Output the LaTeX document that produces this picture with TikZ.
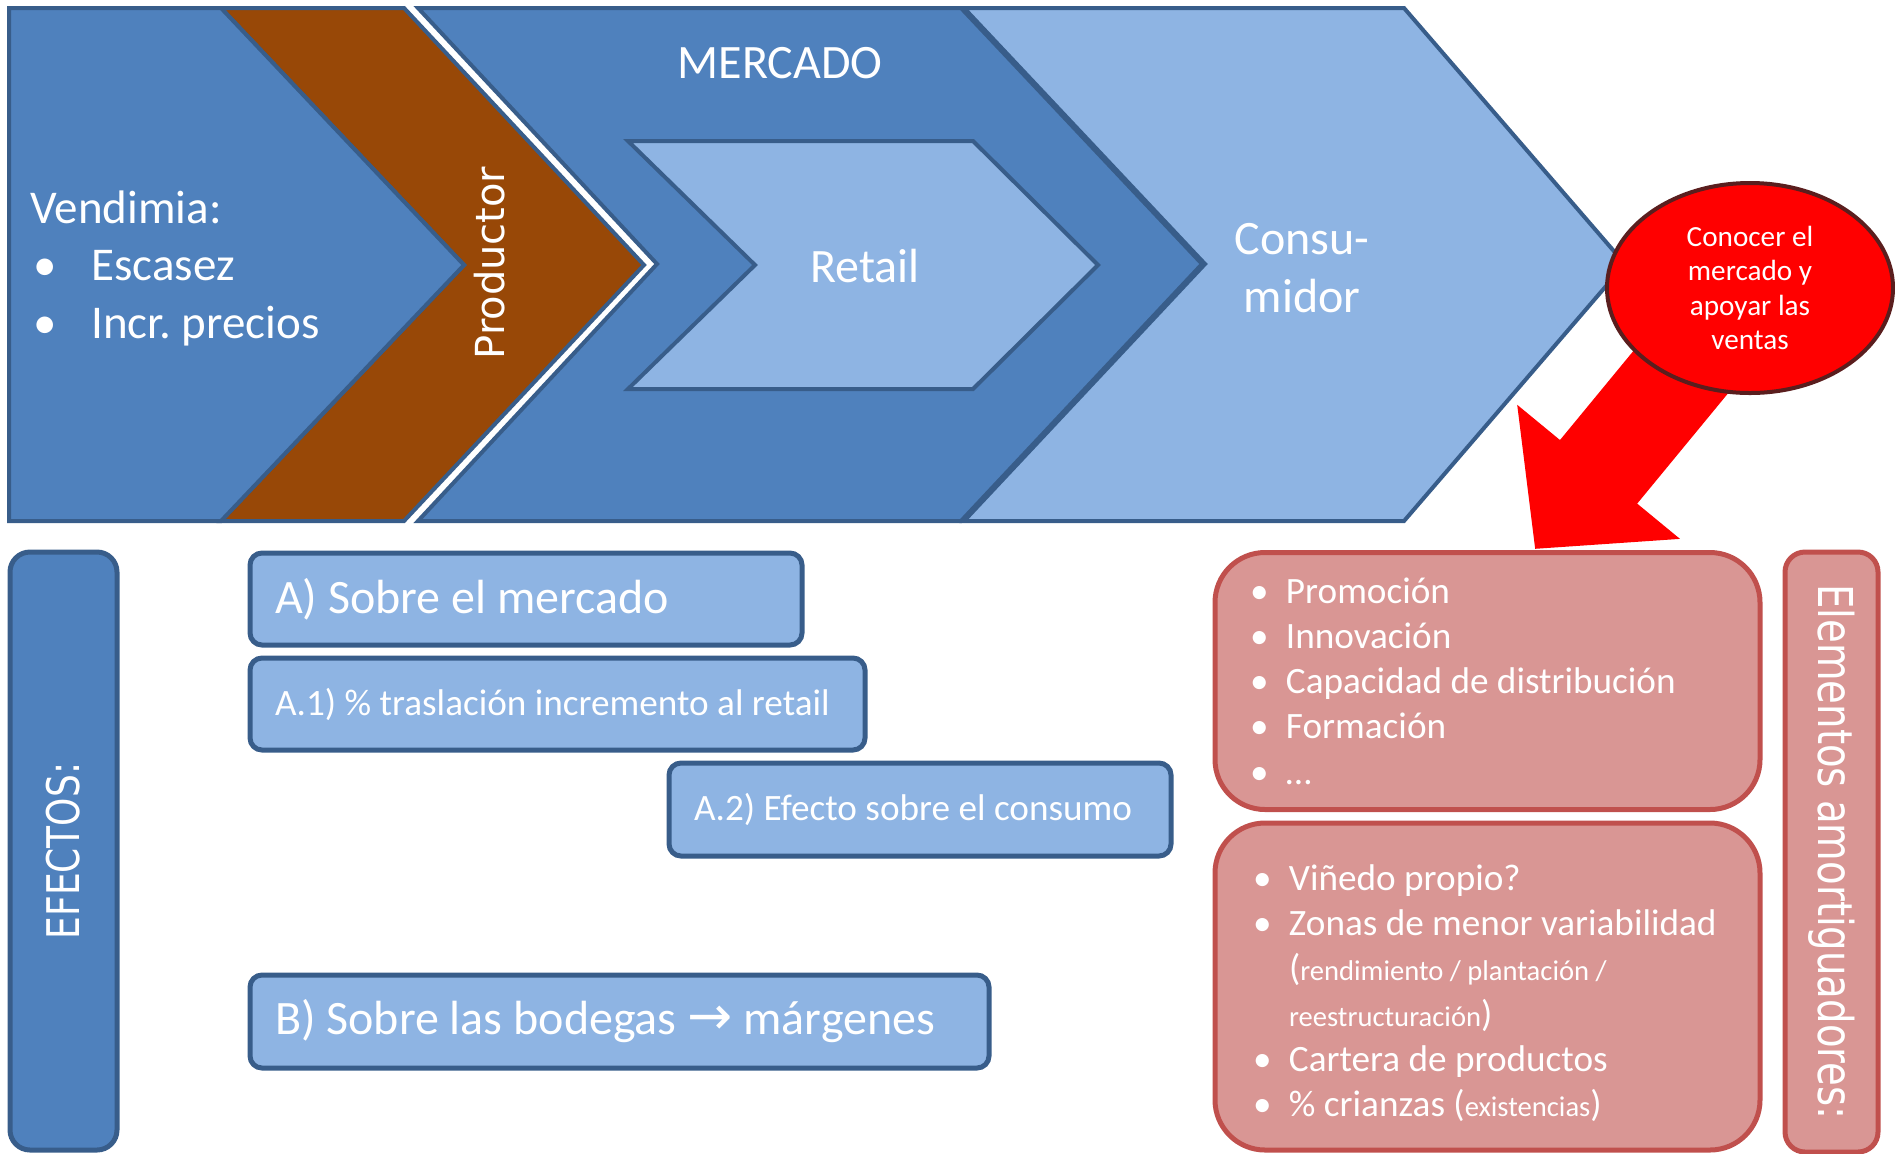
\documentclass[tikz,border=0pt]{standalone}
\usepackage{fontspec}
\setmainfont{Carlito}
\newfontfamily\dvs{DejaVu Sans}
\usetikzlibrary{arrows.meta,shapes.geometric}
\definecolor{midblue}{HTML}{4F81BD}
\definecolor{lightblue}{HTML}{8EB4E3}
\definecolor{darkblue}{HTML}{385D8A}
\definecolor{brownc}{HTML}{984807}
\definecolor{pinkfill}{HTML}{D99694}
\definecolor{redborder}{HTML}{C0504D}
\definecolor{brightred}{HTML}{FF0000}
\definecolor{rim}{HTML}{5A1E1E}
\newcommand\nsp{\spaceskip=0pt\xspaceskip=0pt\relax}
\newcommand\smalltxt[1]{{\fontsize{14.3}{22.6}\selectfont #1}}
\frenchspacing
\begin{document}
\begin{tikzpicture}[x=0.5pt,y=-0.5pt,
  chev/.style={draw=darkblue, line width=2pt, line join=miter},
  bigtxt/.style={text=white, inner sep=0pt, font=\fontsize{24}{28.75}\selectfont},
  bluebox/.style={draw=darkblue, fill=lightblue, line width=2.5pt, rounded corners=6pt,
     text=white, align=left, inner xsep=12.5pt, inner ysep=0pt},
  redbox/.style={draw=redborder, fill=pinkfill, line width=2.5pt, rounded corners=25pt,
     text=white, align=left, inner ysep=0pt, font=\fontsize{18.6}{22.6}\selectfont},
  sidebox/.style={line width=2.5pt, rounded corners=10pt, text=white, inner sep=0pt}
]
\useasboundingbox (0,0) rectangle (1895,1153);

% --- top chevron band ---
\filldraw[chev, fill=lightblue] (964,8) -- (1404,8) -- (1625,264) -- (1404,521) -- (964,521) -- (1205,264) -- cycle;
\filldraw[chev, fill=midblue] (418,8) -- (961,8) -- (1202,264) -- (961,521) -- (418,521) -- (657,264) -- cycle;
\filldraw[chev, fill=lightblue] (628,141) -- (973,141) -- (1098,265) -- (973,389) -- (628,389) -- (755,265) -- cycle;
\filldraw[chev, fill=brownc] (221,8) -- (404,8) -- (644,265) -- (404,521) -- (221,521) -- (464,265) -- cycle;
\filldraw[chev, fill=midblue] (9,8) -- (221,8) -- (464,265) -- (221,521) -- (9,521) -- cycle;

\node[bigtxt, anchor=west, align=left, font=\fontsize{23.5}{28.75}\selectfont] (vend) at (30,268)
  {Vendimia:\\\hspace*{1.5pt}\makebox[29pt][l]{•}Escasez\\\hspace*{1.5pt}\makebox[29pt][l]{•}Incr. precios};
\node[text=white, inner sep=0pt, rotate=90, font=\dvs\fontsize{20}{20}\selectfont] (prod) at (490,263)
  {Productor};
\node[bigtxt] (merc) at (780,63) {MERCADO};
\node[bigtxt] (retail) at (865,266) {Retail};
\node[bigtxt, align=center] (cons) at (1302,268) {Consu-\\midor};

% --- red callout with arrow ---
\coordinate (cc) at (1750,288);
\coordinate (tipA) at (1535,549);
\draw[brightred, line width=50pt, -{Triangle[length=50pt, width=102.5pt]}] (cc) -- (tipA);
\node[ellipse, minimum width=143pt, minimum height=105pt, inner sep=0pt, fill=brightred,
      draw=rim, line width=2pt, text=white, align=center,
      font=\fontsize{14.6}{17.25}\selectfont] (circ) at (cc)
  {Conocer el\\mercado y\\apoyar las\\ventas};

% --- efectos ---
\node[sidebox, draw=darkblue, fill=midblue, rotate=90, minimum width=299pt, minimum height=53.5pt,
      font=\dvs\fontsize{22.5}{22.5}\selectfont] (efectos) at (63.5,851)
  {\scalebox{0.8}[1]{EFECTOS:}};

\node[bluebox, minimum width=276pt, minimum height=46pt, text width=251pt,
      font=\fontsize{24}{28}\selectfont] (boxA) at (526,599) {\nsp A) Sobre el mercado};
\node[bluebox, minimum width=307.5pt, minimum height=46pt, text width=282.5pt,
      font=\fontsize{18.6}{22}\selectfont] (boxA1) at (557.5,704) {\nsp A.1) \% traslación incremento al retail};
\node[bluebox, minimum width=251pt, minimum height=46.5pt, text width=226pt,
      font=\fontsize{18.6}{22}\selectfont] (boxA2) at (920,809.5) {\nsp A.2) Efecto sobre el consumo};
\node[bluebox, minimum width=369.5pt, minimum height=46.5pt, text width=344.5pt,
      font=\fontsize{24}{28}\selectfont] (boxB) at (619.5,1021.5) {\nsp B) Sobre las bodegas {\dvs\fontsize{27}{28}\selectfont →} márgenes};

% --- elementos amortiguadores ---
\node[redbox, minimum width=272.5pt, minimum height=128.5pt, inner xsep=17.5pt, text width=237.5pt] (am1) at (1487.5,681)
  {\nsp\makebox[18pt][l]{•}Promoción\\
   \makebox[18pt][l]{•}Innovación\\
   \makebox[18pt][l]{•}Capacidad de distribución\\
   \makebox[18pt][l]{•}Formación\\
   \makebox[18pt][l]{•}…};
\node[redbox, minimum width=272.5pt, minimum height=163.5pt, inner xsep=19pt, text width=234.5pt] (am2) at (1487.5,986.5)
  {\nsp\rule{0pt}{19.5pt}\makebox[18pt][l]{•}Viñedo propio?\\
   \makebox[18pt][l]{•}Zonas de menor variabilidad\\
   \hspace*{18pt}(\smalltxt{rendimiento / plantación /}\\
   \hspace*{18pt}\smalltxt{reestructuración})\\
   \makebox[18pt][l]{•}Cartera de productos\\
   \makebox[18pt][l]{•}\% crianzas (\smalltxt{existencias})};
\node[sidebox, draw=redborder, fill=pinkfill, rotate=-90, minimum width=300pt, minimum height=46.5pt,
      font=\dvs\fontsize{24}{24}\selectfont] (elem) at (1831.5,852)
  {\scalebox{0.805}[1]{Elementos amortiguadores:}};
\end{tikzpicture}
\end{document}
